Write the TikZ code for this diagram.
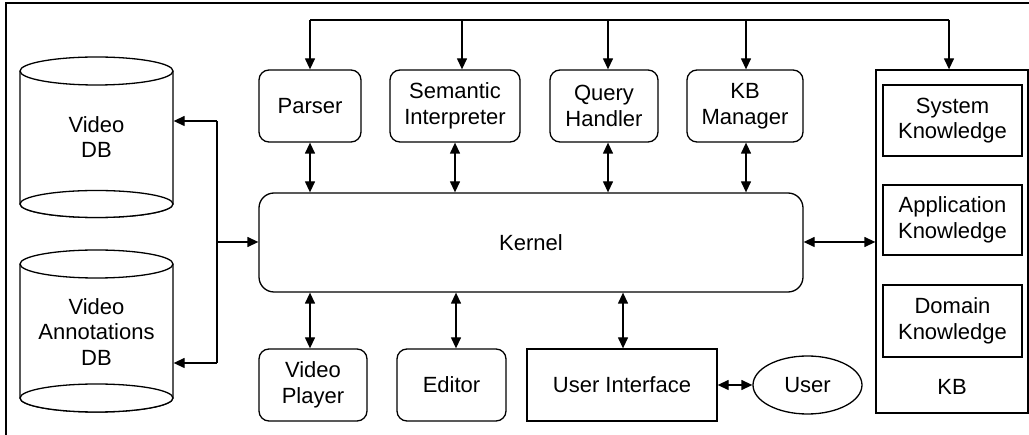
\documentclass[tikz,border=0pt]{standalone}
\usepackage{fontspec}
\setmainfont{Liberation Sans}
\usetikzlibrary{arrows.meta,shapes.geometric}
\begin{document}
\begin{tikzpicture}[x=1pt,y=-1pt,
  font=\fontsize{22}{25.5}\selectfont,
  every node/.style={align=center, inner sep=0pt, line width=1.3pt},
  ln/.style={line width=1.3pt},
  arr/.style={line width=1.3pt, -{Triangle[length=11pt,width=10pt]}},
  darr/.style={line width=1.3pt, {Triangle[length=11pt,width=10pt]}-{Triangle[length=11pt,width=10pt]}},
  rbox/.style={draw, rounded corners=10pt},
  sbox/.style={draw},
  cyl/.style={line width=1.3pt, fill=white}]
\useasboundingbox (0,0) rectangle (1029,435);
\draw[ln] (1029,3) -- (6,3) -- (6,435);

% Video DB cylinder
\draw[cyl] (20,71) -- (20,204) arc[start angle=180,end angle=360,x radius=76.5pt,y radius=13.5pt] -- (173,71);
\draw[cyl] (96.5,204) ellipse [x radius=76.5pt, y radius=13.5pt];
\draw[cyl] (96.5,71) ellipse [x radius=76.5pt, y radius=14pt];
\node[minimum width=153pt, minimum height=160pt] (vdb) at (96.5,137) {Video\\DB};

% Video Annotations DB cylinder
\draw[cyl] (20,264) -- (20,398) arc[start angle=180,end angle=360,x radius=76.5pt,y radius=14pt] -- (173,264);
\draw[cyl] (96.5,398) ellipse [x radius=76.5pt, y radius=14pt];
\draw[cyl] (96.5,264) ellipse [x radius=76.5pt, y radius=14pt];
\node[minimum width=153pt, minimum height=160pt] (vadb) at (96.5,332) {Video\\Annotations\\DB};

% top modules
\node[rbox, minimum width=102pt, minimum height=72pt] (parser) at (310,106) {Parser};
\node[rbox, minimum width=130pt, minimum height=72pt] (sem) at (455,106) {Semantic\\Interpreter};
\node[rbox, minimum width=108pt, minimum height=72pt] (query) at (604,106) {Query\\Handler};
\node[rbox, minimum width=116pt, minimum height=72pt] (kbm) at (745,106) {KB\\Manager};

% kernel
\node[draw, rounded corners=15pt, minimum width=544pt, minimum height=99pt] (kernel) at (531,242.5) {Kernel};

% bottom modules
\node[rbox, minimum width=108pt, minimum height=72pt] (vp) at (313,385) {Video\\Player};
\node[rbox, minimum width=109pt, minimum height=72pt] (ed) at (451.5,385) {Editor};
\node[sbox, minimum width=190pt, minimum height=72pt] (ui) at (622,385) {User Interface};
\node[draw, ellipse, minimum width=109pt, minimum height=58pt] (user) at (807.5,385) {User};

% KB
\node[sbox, minimum width=152pt, minimum height=343pt] (kb) at (952,241.5) {};
\node (kblabel) at (952,387) {KB};
\node[sbox, minimum width=139pt, minimum height=71pt] (sys) at (952.5,120.5) {System\\Knowledge};
\node[sbox, minimum width=139pt, minimum height=70pt] (app) at (952.5,220) {Application\\Knowledge};
\node[sbox, minimum width=139pt, minimum height=72pt] (dom) at (952.5,321) {Domain\\Knowledge};

% top bus
\coordinate (b1) at (310,20);
\coordinate (b2) at (462,20);
\coordinate (b3) at (608,20);
\coordinate (b4) at (746,20);
\coordinate (b5) at (949,20);
\draw[ln] (b1) -- (b5);
\draw[arr] (b1) -- (b1 |- parser.north);
\draw[arr] (b2) -- (b2 |- sem.north);
\draw[arr] (b3) -- (b3 |- query.north);
\draw[arr] (b4) -- (b4 |- kbm.north);
\draw[arr] (b5) -- (b5 |- kb.north);

% module <-> kernel
\coordinate (t1) at (310,142);
\coordinate (t2) at (455,142);
\coordinate (t3) at (608,142);
\coordinate (t4) at (746,142);
\draw[darr] (t1 |- parser.south) -- (t1 |- kernel.north);
\draw[darr] (t2 |- sem.south) -- (t2 |- kernel.north);
\draw[darr] (t3 |- query.south) -- (t3 |- kernel.north);
\draw[darr] (t4 |- kbm.south) -- (t4 |- kernel.north);

\coordinate (u1) at (310,300);
\coordinate (u2) at (456,300);
\coordinate (u3) at (623,300);
\draw[darr] (u1 |- kernel.south) -- (u1 |- vp.north);
\draw[darr] (u2 |- kernel.south) -- (u2 |- ed.north);
\draw[darr] (u3 |- kernel.south) -- (u3 |- ui.north);

% left bus
\coordinate (jt) at (217,121);
\coordinate (jm) at (217,242);
\coordinate (jb) at (217,363);
\draw[ln] (jt) -- (jb);
\draw[arr] (jt) -- (jt -| vdb.east);
\draw[arr] (jb) -- (jb -| vadb.east);
\draw[arr] (jm) -- (jm -| kernel.west);

% kernel <-> KB
\coordinate (kk) at (803,242);
\draw[darr] (kk -| kernel.east) -- (kk -| kb.west);

% UI <-> User
\draw[darr] (ui.east) -- (user.west);
\end{tikzpicture}
\end{document}
